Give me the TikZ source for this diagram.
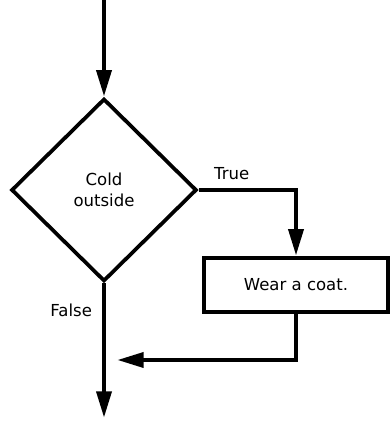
\documentclass[tikz,border=0pt]{standalone}
\usepackage{fontspec}
\setmainfont{DejaVu Sans}
\usetikzlibrary{arrows.meta,calc,shapes.geometric}

\begin{document}
\begin{tikzpicture}[x=0.75pt,y=0.75pt,>={Triangle[length=20pt,width=11pt]},
  line width=3.4pt,font=\fontsize{12.4}{15.5}\selectfont]
  \useasboundingbox (0,0) rectangle (390,423);
  \node[diamond,aspect=1,draw,line width=2.8pt,inner sep=0pt,align=center,
    minimum width=139pt,minimum height=137pt] (cold)
    at (104,233) {Cold\\outside};
  \node[draw,line width=2.8pt,minimum width=138pt,minimum height=41pt] (coat)
    at (296,138) {Wear a coat.};

  \coordinate (entry) at (104,423);
  \coordinate (exit) at (104,5);
  \coordinate (merge) at (117,63);
  \draw[->] (entry) -- (cold.north);
  \draw[->] (cold.east) -| node[pos=0.17,above=3pt] {True} (coat.north);
  \draw[->] (cold.south) -- node[pos=0.2,left=4pt] {False} (exit);
  \draw[->] (coat.south) |- (merge);
\end{tikzpicture}
\end{document}
